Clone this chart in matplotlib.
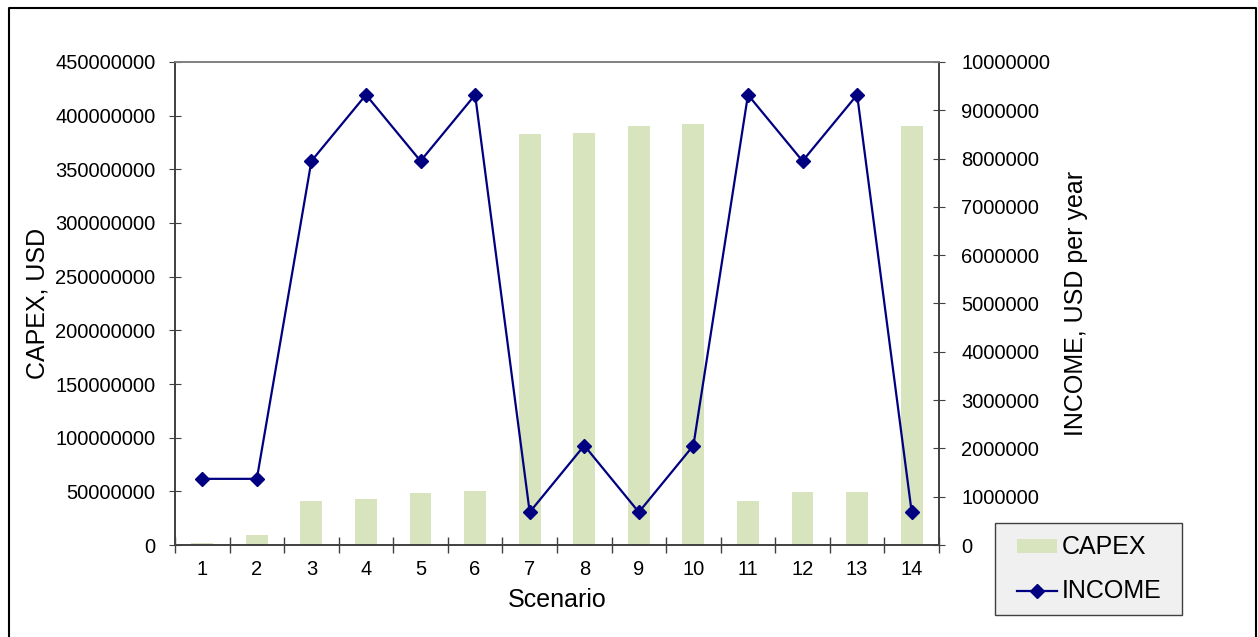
import matplotlib
matplotlib.use("Agg")
import matplotlib.pyplot as plt
from matplotlib.lines import Line2D
from matplotlib.patches import Rectangle
import numpy as np

plt.rcParams['font.family'] = ['Liberation Sans', 'DejaVu Sans']

scenarios = ['1', '2', '3', '4', '5', '6', '7', '8', '9', '10', '11', '12', '13', '14']
capex = [2e6, 9e6, 41e6, 43e6, 48.7e6, 50e6, 383e6, 384e6, 390e6, 392e6, 41e6, 49e6, 49e6, 390e6]
income = [1.37e6, 1.37e6, 7.95e6, 9.32e6, 7.95e6, 9.32e6, 0.68e6, 2.06e6, 0.68e6, 2.06e6, 9.32e6, 7.95e6, 9.32e6, 0.68e6]
left_ticks = list(range(0, 450000001, 50000000))
right_ticks = list(range(0, 10000001, 1000000))

W, H = 1258, 637
fig = plt.figure(figsize=(12.58, 6.37), dpi=100)
ax = fig.add_axes([0.1391, 0.1444, 0.6073, 0.7583])
ax2 = ax.twinx()

x = np.arange(len(scenarios))
bars = ax.bar(x, capex, width=0.4, color='#d7e4bd', label='CAPEX', zorder=2)
line, = ax2.plot(x, income, color='#000080', marker='D', markersize=7.5,
                 markerfacecolor='#000080', linewidth=1.6, label='INCOME', zorder=3)

ax.set_xlim(-0.5, len(scenarios) - 0.5)
ax.set_ylim(0, 450000000)
ax2.set_ylim(0, 10000000)
ax.set_yticks(left_ticks)
ax.set_yticklabels([str(v) for v in left_ticks])
ax2.set_yticks(right_ticks)
ax2.set_yticklabels([str(v) for v in right_ticks])
ax.set_xticks(x)
ax.set_xticklabels(scenarios)
ax.set_xticks(np.arange(-0.5, len(scenarios), 1), minor=True)

spine_c = '#404040'
for a in (ax, ax2):
    a.spines['top'].set_color('#808080')
    a.spines['left'].set_color(spine_c)
    a.spines['right'].set_color(spine_c)
    a.spines['bottom'].set_color(spine_c)
    for s in a.spines.values():
        s.set_linewidth(1.2)

ax.tick_params(axis='x', which='major', length=0, labelsize=14.5, pad=11)
ax.tick_params(axis='x', which='minor', length=12, direction='inout', color=spine_c, width=1)
ax.tick_params(axis='y', length=8, direction='inout', labelsize=14.5, color=spine_c, pad=10)
ax2.tick_params(axis='y', length=8, direction='inout', labelsize=14.5, color=spine_c, pad=12)

ax.set_xlabel('Scenario', fontsize=18, labelpad=6)
ax.set_ylabel('CAPEX, USD', fontsize=18, labelpad=4)
ax2.set_ylabel('INCOME, USD per year', fontsize=18, labelpad=10)

# legend frame drawn manually
fig.add_artist(Rectangle((995 / W, 1 - 615 / H), 187 / W, 92 / H, transform=fig.transFigure,
                         facecolor='#f0f0f0', edgecolor='#404040', linewidth=1.0, zorder=4))
leg = fig.legend(handles=[bars, line], labels=['CAPEX', 'INCOME'],
                 loc='center left', bbox_to_anchor=(1017 / W, 1 - 569.5 / H),
                 borderaxespad=0, borderpad=0, fontsize=18, frameon=False,
                 handlelength=1.6, handleheight=0.5, handletextpad=0.2, labelspacing=0.8)
leg.set_zorder(5)

# figure outer border (left, top, right)
xl, xr, yt = 8.5 / W, 1255.5 / W, 1 - 7.5 / H
fig.add_artist(Line2D([xl, xl, xr, xr], [0, yt, yt, 0], transform=fig.transFigure,
                      color='black', linewidth=1.5))

fig.savefig('out.png', dpi=100)
